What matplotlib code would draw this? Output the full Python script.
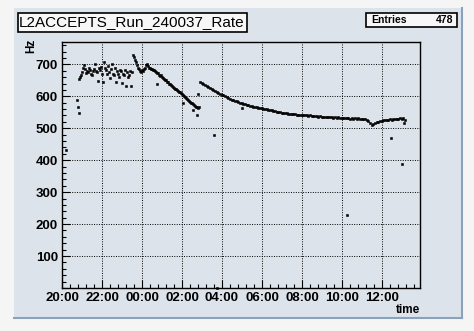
import numpy as np
import pandas as pd
import matplotlib
matplotlib.use("Agg")
import matplotlib.pyplot as plt
import matplotlib.dates as mdates
from matplotlib.ticker import MultipleLocator, FixedLocator
from matplotlib.patches import Rectangle

# run start (date is arbitrary, only the clock time is shown)
t0 = pd.Timestamp("2007-05-01 20:00")

# noisy part at the beginning of the run, one entry every 3 min from 20:52
seg1_vals = [653, 660, 668, 676, 688, 699, 684, 672, 680, 676, 690, 681, 671, 668,
             678, 684, 702, 679, 676, 649, 688, 683, 692, 671, 644, 706, 688, 681,
             670, 694, 676, 658, 685, 700, 671, 668, 690, 646, 678, 671, 662, 683,
             679, 641, 670, 666, 683, 632, 676, 660, 668, 680, 631, 676]

# after the jump at 23:33, every 3 min
seg2_vals = [728, 722, 713, 706, 698, 690, 686, 680, 676, 681, 678, 685, 690, 698,
             701, 694, 690, 689, 686, 684, 681, 683, 678, 675, 672, 674, 668, 665,
             666, 660, 657, 655, 651, 650, 646, 644, 640, 638, 636, 632, 630, 627,
             624, 622, 619, 617, 614, 612, 609, 606, 603, 601, 597, 595, 591, 589,
             586, 583, 580, 578, 575, 572, 570, 567, 565, 563, 566]

# second fill from 02:54, every 5 min
seg3_vals = [645, 642, 640, 636, 632, 629, 627, 622, 620, 617, 614, 611, 608, 605,
             603, 600, 598, 594, 592, 590, 587, 585, 584, 581, 580, 578, 576, 575,
             573, 572, 571, 569, 568, 567, 566, 564, 563, 562, 561, 560, 559, 558,
             557, 556, 555, 553, 552, 551, 550, 549, 548, 548, 547, 546, 546, 545,
             544, 544, 543, 543, 542, 541, 541, 540, 541, 539, 540, 538, 539, 537,
             538, 536, 537, 536, 535, 536, 534, 535, 534, 535, 533, 534, 532, 534,
             532, 533, 531, 533, 531, 532, 530, 532, 530, 531, 529, 531, 529, 530,
             528, 529, 527, 524, 515, 510, 514, 517, 519, 521, 522, 524, 525, 526,
             527, 526, 528, 527, 529, 528, 530, 529, 531, 530, 531, 525]

# isolated entries (minutes after 20:00, rate)
stray_min = [12, 45, 48, 51, 285, 363, 393, 405, 408, 456, 465, 540, 855, 987, 1020, 1025]
stray_vals = [432, 590, 565, 547, 637, 578, 556, 541, 606, 478, 0, 562, 228, 469, 388, 516]

t1 = pd.date_range(t0 + pd.Timedelta(minutes=52), periods=len(seg1_vals), freq="3min")
t2 = pd.date_range(t0 + pd.Timedelta(minutes=213), periods=len(seg2_vals), freq="3min")
t3 = pd.date_range(t0 + pd.Timedelta(minutes=414), periods=len(seg3_vals), freq="5min")
ts = [t0 + pd.Timedelta(minutes=m) for m in stray_min]

times = np.concatenate([mdates.date2num(t1), mdates.date2num(t2),
                        mdates.date2num(t3), mdates.date2num(ts)])
rates = np.concatenate([seg1_vals, seg2_vals, seg3_vals, stray_vals])

panel = "#dde3ea"
fig = plt.figure(figsize=(4.74, 3.31), dpi=100, facecolor="#f5f5f5")

# canvas pad with darker right/bottom edge
fig.patches.append(Rectangle((14 / 474, 1 - 318 / 331), 448 / 474, 310 / 331,
                             transform=fig.transFigure, facecolor=panel,
                             edgecolor="none", zorder=-5))
fig.lines.append(plt.Line2D([462 / 474, 462 / 474], [1 - 318 / 331, 1 - 8 / 331],
                            transform=fig.transFigure, color="#8aa2bb", lw=1.5,
                            zorder=-4))
fig.lines.append(plt.Line2D([14 / 474, 462 / 474], [1 - 318 / 331, 1 - 318 / 331],
                            transform=fig.transFigure, color="#8aa2bb", lw=1.5,
                            zorder=-4))

ax = fig.add_axes([62 / 474, 1 - 288 / 331, 358 / 474, 246 / 331])
ax.set_zorder(1)
ax.set_facecolor(panel)
ax.plot(times, rates, ls="none", marker="s", ms=2.1, mfc="black", mec="black",
        mew=0.4, clip_on=False, zorder=3)

ax.set_xlim(mdates.date2num(t0), mdates.date2num(t0 + pd.Timedelta(minutes=1074)))
ax.set_ylim(0, 770)

ax.yaxis.set_major_locator(FixedLocator([100, 200, 300, 400, 500, 600, 700]))
ax.yaxis.set_minor_locator(MultipleLocator(20))
ax.xaxis.set_major_locator(MultipleLocator(1 / 12))
ax.xaxis.set_minor_locator(MultipleLocator(1 / 60))
ax.xaxis.set_major_formatter(mdates.DateFormatter("%H:%M"))

ax.tick_params(which="both", direction="in", color="black", width=0.8,
               top=False, right=False)
ax.tick_params(which="major", length=6, labelsize=9.5, pad=3)
ax.tick_params(which="minor", length=3)
for lab in ax.get_xticklabels() + ax.get_yticklabels():
    lab.set_fontweight("bold")
    lab.set_family("Liberation Sans")

ax.grid(True, which="major", color="black", ls=(0, (1, 1.5)), lw=0.7)
for s in ax.spines.values():
    s.set_linewidth(1.0)

fig.text(420 / 474, 1 - 310 / 331, "time", ha="right", va="center",
         fontsize=8.5, fontweight="bold", family="Liberation Sans")
fig.text(31 / 474, 1 - 46 / 331, "Hz", ha="center", va="center", rotation=90,
         fontsize=8.5, fontweight="bold", family="Liberation Sans")

# title box
fig.patches.append(Rectangle((18 / 474, 1 - 32 / 331), 229 / 474, 19 / 331,
                             transform=fig.transFigure, facecolor="#f7f7f7",
                             edgecolor="black", lw=1.2, zorder=5))
fig.text(132 / 474, 1 - 22.5 / 331, "L2ACCEPTS_Run_240037_Rate", ha="center",
         va="center", fontsize=11, family="Liberation Sans", zorder=6)

# stats box
fig.patches.append(Rectangle((366 / 474, 1 - 27 / 331), 91 / 474, 14 / 331,
                             transform=fig.transFigure, facecolor="#f7f7f7",
                             edgecolor="black", lw=1.2, zorder=5))
fig.text(371 / 474, 1 - 20 / 331, "Entries", ha="left", va="center",
         fontsize=7.5, fontweight="bold", family="Liberation Sans", zorder=6)
fig.text(453 / 474, 1 - 20 / 331, "478", ha="right", va="center",
         fontsize=7.5, fontweight="bold", family="Liberation Sans", zorder=6)

fig.savefig("out.png", dpi=100, facecolor=fig.get_facecolor())
